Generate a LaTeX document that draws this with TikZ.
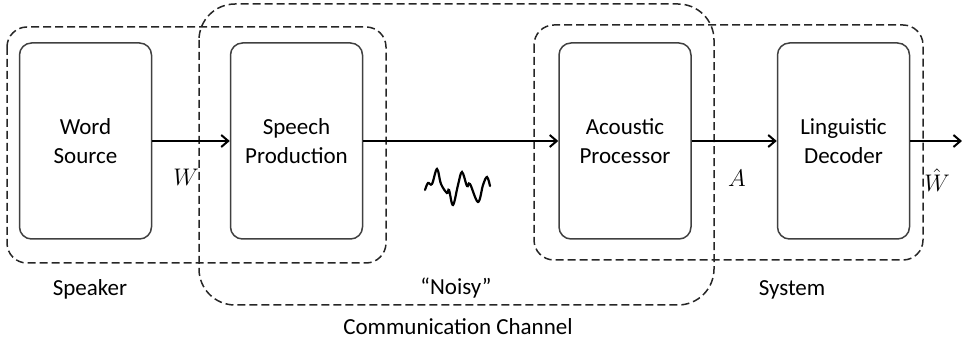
\documentclass[tikz,border=0pt]{standalone}
\usepackage{fontspec}
\setmainfont{Carlito}
\usepackage{amsmath}
\usepackage{tikz}
\usetikzlibrary{calc,arrows.meta}

\begin{document}
\begin{tikzpicture}[x=0.5pt,y=-0.5pt,
  every node/.style={font=\fontsize{11.5}{14.5}\selectfont},
  blk/.style={draw=black!75,line width=.75pt,rounded corners=6pt,minimum width=66pt,minimum height=98pt,align=center},
  grp/.style={black!85,line width=.75pt,dash pattern=on 4pt off 2pt},
  arr/.style={-{Straight Barb[length=3.5pt,width=6pt]},line width=1pt}]

\useasboundingbox (0,0) rectangle (962,341);

\draw [grp,rounded corners=10pt] (7,27) rectangle (386,263);
\draw [grp,rounded corners=18pt] (199,4) rectangle (714,305);
\draw [grp,rounded corners=10pt] (534,25) rectangle (923,260);

\node [blk] (word) at (85.5,141) {Word\\Source};
\node [blk] (speech) at (296.5,141) {Speech\\Production};
\node [blk] (acoustic) at (625,141) {Acoustic\\Processor};
\node [blk] (decoder) at (843.5,141) {Linguistic\\Decoder};
\coordinate (out) at (962,141);

\draw [arr] (word) -- (speech);
\draw [arr] (speech) -- (acoustic);
\draw [arr] (acoustic) -- (decoder);
\draw [arr] (decoder) -- (out);

\node [inner sep=1pt] (w) at (186,177) {$W$};
\node [inner sep=1pt] (a) at (737,178) {$A$};
\node [inner sep=1pt] (what) at (937,180) {$\hat{W}$};

\draw [line width=1.1pt,line cap=round] plot [smooth,tension=0.6] coordinates {(425,190) (428,183) (432,184) (437,169) (441,184) (447,193) (449,190) (453,205) (458,185) (462,172) (467,186) (470,184) (478,202) (483,185) (487,177) (490,186)};

\node (speaker) at (90,289) {Speaker};
\node (noisy) at (456,288) {“Noisy”};
\node (system) at (792,290) {System};
\node (channel) at (458,327) {Communication Channel};

\end{tikzpicture}
\end{document}
